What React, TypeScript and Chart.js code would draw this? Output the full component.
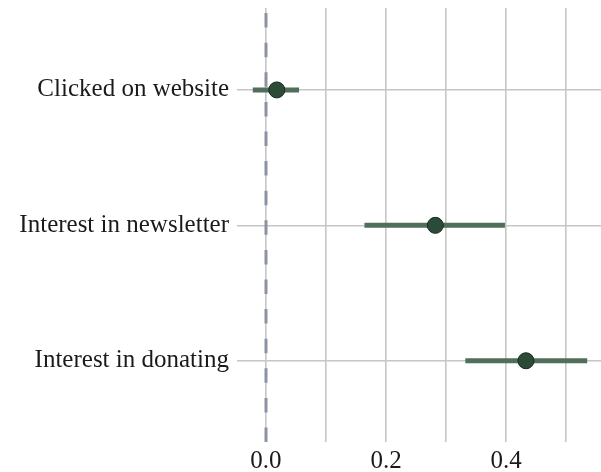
import React, { useEffect, useRef } from 'react';
import { Chart, registerables } from 'chart.js';

Chart.register(...registerables);

const outcomes = ['Clicked on website', 'Interest in newsletter', 'Interest in donating'];
const estimates = [0.018, 0.282, 0.433];
const ciLow = [-0.022, 0.164, 0.332];
const ciHigh = [0.055, 0.398, 0.535];
const xGridValues = [0, 0.1, 0.2, 0.3, 0.4, 0.5];
const xTickLabels = ['0.0', '', '0.2', '', '0.4', ''];
const referenceValue = 0;

export default function App() {
  const canvasRef = useRef<HTMLCanvasElement | null>(null);

  useEffect(() => {
    document.body.style.margin = '0';
    const canvas = canvasRef.current;
    if (!canvas) return;

    const barData: any[] = [];
    outcomes.forEach((_, i) => {
      barData.push({ x: ciLow[i], y: i });
      barData.push({ x: ciHigh[i], y: i });
      barData.push({ x: ciHigh[i], y: null });
    });

    const font = { family: "'Liberation Serif', serif", size: 25 };

    const chart = new Chart(canvas, {
      type: 'scatter',
      data: {
        datasets: [
          {
            label: 'estimates',
            data: estimates.map((v, i) => ({ x: v, y: i })),
            pointRadius: 8,
            pointHoverRadius: 8,
            backgroundColor: '#2b4a37',
            borderColor: '#18271d',
            borderWidth: 1,
            order: 0,
          },
          {
            label: 'ci',
            data: barData,
            showLine: true,
            spanGaps: false,
            pointRadius: 0,
            borderColor: '#4f6f5a',
            borderWidth: 5,
            borderCapStyle: 'butt',
            order: 1,
          } as any,
          {
            label: 'zero',
            data: [
              { x: referenceValue, y: 2.6 },
              { x: referenceValue, y: -0.605 },
            ],
            showLine: true,
            pointRadius: 0,
            borderColor: '#8b93a3',
            borderWidth: 3,
            borderDash: [14.5, 15.1],
            borderCapStyle: 'butt',
            order: 2,
          } as any,
        ],
      },
      options: {
        responsive: false,
        animation: false,
        layout: { autoPadding: false, padding: { top: 8, right: 0, left: 0, bottom: 0 } },
        plugins: { legend: { display: false }, tooltip: { enabled: false } },
        scales: {
          x: {
            type: 'linear',
            min: -0.0483,
            max: 0.558,
            afterBuildTicks: (scale: any) => {
              scale.ticks = xGridValues.map((v) => ({ value: v }));
            },
            afterFit: (scale: any) => {
              scale.height = 30;
              scale.paddingLeft = 0;
              scale.paddingRight = 0;
            },
            ticks: {
              autoSkip: false,
              maxRotation: 0,
              padding: 4,
              color: '#1a1a1a',
              font,
              callback: (_v: any, i: number) => xTickLabels[i],
            },
            grid: { color: '#c6c6c6', lineWidth: 1.6, drawTicks: false },
            border: { display: false },
          },
          y: {
            type: 'linear',
            reverse: true,
            min: -0.605,
            max: 2.6,
            afterBuildTicks: (scale: any) => {
              scale.ticks = outcomes.map((_, i) => ({ value: i }));
            },
            afterFit: (scale: any) => {
              scale.width = 237;
              scale.paddingTop = 0;
              scale.paddingBottom = 0;
            },
            ticks: {
              autoSkip: false,
              padding: 8,
              color: '#1a1a1a',
              font,
              callback: (v: any) => outcomes[v as number],
            },
            grid: { color: '#c6c6c6', lineWidth: 1.6, drawTicks: false },
            border: { display: false },
          },
        },
      },
    });

    return () => chart.destroy();
  }, []);

  return (
    <div style={{ width: 601, height: 472 }}>
      <canvas ref={canvasRef} width={601} height={472} style={{ display: 'block' }} />
    </div>
  );
}
